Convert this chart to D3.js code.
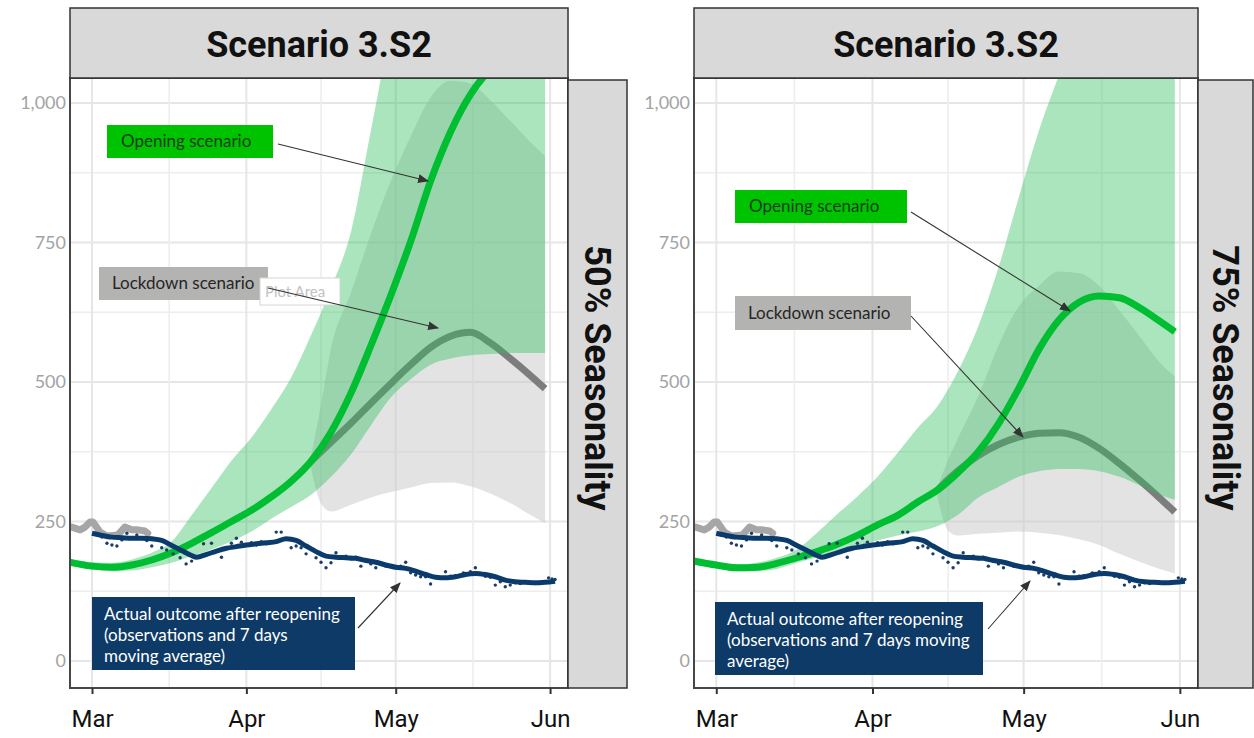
<!DOCTYPE html>
<html><head><meta charset="utf-8">
<script src="https://cdn.jsdelivr.net/npm/d3@7"></script>
<style>body{margin:0;background:#fff}svg{display:block}</style>
</head><body><svg id="c" width="1254" height="738"></svg>
<script>
// ---------------- DATA ----------------
// day offsets from 1 March 2020
const modelDays = [-5,0,4,8,12,16,20,24,28,32,36,40,44,48,52,56,60,64,68,72,76,80,84,88,91];
const lockDays  = [44,46,48,52,56,60,64,68,72,76,80,84,88,91];

// Panel 1: 50% seasonality
const open50   = [178,170,168,172,181,194,211,230,250,270,294,322,358,410,480,565,655,752,860,948,1015,1060,1085,1100,1105];
const openHi50 = [184,177,176,182,194,214,261,310,359,400,451,508,584,668,769,950,1130,1250,1350,1400,1400,1400,1400,1400,1400];
const openLo50 = [171,164,161,162,168,176,188,200,214,232,255,276,298,330,370,422,472,505,531,542,548,550,552,552,552];
const lock50   = [358,375,392,426,462,497,531,562,582,589,570,542,512,488];
const lockHi50 = [366,460,560,660,765,860,940,1010,1040,1035,1005,968,930,905];
const lockLo50 = [345,282,268,280,293,303,311,319,320,313,300,283,262,247];

// Panel 2: 75% seasonality
const open75   = [180,172,167,168,175,185,196,209,225,244,261,285,307,338,375,425,488,558,611,643,654,651,633,609,590];
const openHi75 = [185,177,173,176,185,200,230,263,295,330,373,418,458,520,600,705,830,950,1050,1150,1200,1200,1200,1200,1200];
const openLo75 = [174,167,161,161,165,176,186,196,206,216,225,232,242,262,293,312,330,340,344,344,340,330,315,298,289];
const lock75   = [307,325,341,368,388,401,408,409,401,381,354,324,292,267];
const lockHi75 = [314,360,400,475,565,635,672,698,695,672,628,582,535,510];
const lockLo75 = [290,234,225,228,230,232,230,226,218,208,192,178,165,157];

// Observed before reopening (grey)
const preDays = [-4.1,-2.4,-1.4,-0.4,0.2,1.6,3,5.2,6.6,8,9.2,10.6,11.2];
const preVals = [240,235,240,249,249,231,224,226,240,235,235,233,229];

// Actual outcome: 7-day moving average
const maDays = [0,2,4,6,8,10,12,14,16,18,20,21,23,25,27,29,31,33,35,37,39,41,43,45,47,49,51,53,55,57,59,61,63,65,67,69,71,73,75,77,79,81,83,85,87,89,91,93];
const maVals = [229,225,222,221,220,220,219,216,207,198,189,186,191,197,202,205,208,210,212,214,219,216,206,196,188,186,185,184,180,177,172,168,166,161,155,150,149,151,155,157,155,151,145,142,141,140,141,143];

// Actual outcome: daily observations
const obsDays = [1,2,3,4,5,6,7,9,10,11,12,14,15,16.3,17.7,18.9,20,22.4,24,26,28,29,30,32,33,34,35,36,37,38,40,41,42,43,45,46,47,48,49,50,51,52,53,54,55,56,57,58,59,60,61,62,63,64,65,66,67,68,69,70,71,72,73,74.6,75,76,77,78,79,80,81,82,83,84,85,86,87,88,89,90,91.7,92.4,93];
const obsVals = [226,222,211,208,206,217,229,226,220,216,206,203,199,192,185,174,179,210,211,186,211,220,213,212,208,214,210,213,231,231,203,206,203,192,185,177,167,176,194,184,188,183,186,170,182,174,167,176,170,171,167,170,177,158,154,151,151,138,150,149,160,152,153,158,157,160,167,156,152,150,136,142,133,136,140,139,142,141,139,141,149,147,146];

const yTicks = [0,250,500,750,1000];
const monthTicks = ["2020-03-01","2020-04-01","2020-05-01","2020-06-01"];
const titles = ["Scenario 3.S2","Scenario 3.S2"];
const strips = ["50% Seasonality","75% Seasonality"];

// ---------------- CHART ----------------
const svg = d3.select("#c");
const day = d => new Date(Date.UTC(2020,2,1) + d*864e5);
const Y0 = 78, Y1 = 688;

const panels = [
  {x0:70, x1:568, sx1:627, open:open50, hi:openHi50, lo:openLo50, lock:lock50, lhi:lockHi50, llo:lockLo50, strip:strips[0], title:titles[0],
   ann:{ob:[107,125,166,33], oa:[[278,144],[428,181]], lb:[99,267,169,33], la:[[268,288],[438,328]], plotArea:[260,278,80,27],
        bb:[92,597,263,73], ba:[[358,628],[400,583]], btext:["Actual outcome after reopening","(observations and 7 days","moving average)"]}},
  {x0:694, x1:1198, sx1:1253, open:open75, hi:openHi75, lo:openLo75, lock:lock75, lhi:lockHi75, llo:lockLo75, strip:strips[1], title:titles[1],
   ann:{ob:[735,190,172,33], oa:[[911,212],[1070,311]], lb:[735,296,176,34], la:[[911,316],[1023,437]], plotArea:null,
        bb:[715,602,268,73], ba:[[988,629],[1030,581]], btext:["Actual outcome after reopening","(observations and 7 days moving","average)"]}}
];

const defs = svg.append("defs");
defs.append("marker").attr("id","arr").attr("viewBox","0 0 10 10").attr("refX",9).attr("refY",5)
  .attr("markerWidth",11).attr("markerHeight",11).attr("markerUnits","userSpaceOnUse").attr("orient","auto")
  .append("path").attr("d","M0,1L10,5L0,9Z").attr("fill","#333");

panels.forEach((p,i) => {
  const x = d3.scaleUtc().domain([day(-4.42), day(95.6)]).range([p.x0, p.x1]);
  const y = d3.scaleLinear().domain([-48.4, 1044.8]).range([Y1, Y0]);
  const g = svg.append("g");
  const cid = "clip"+i;
  defs.append("clipPath").attr("id",cid).append("rect").attr("x",p.x0).attr("y",Y0).attr("width",p.x1-p.x0).attr("height",Y1-Y0);

  g.append("rect").attr("x",p.x0).attr("y",Y0).attr("width",p.x1-p.x0).attr("height",Y1-Y0).attr("fill","#fff");

  // grid
  const grid = g.append("g").attr("clip-path",`url(#${cid})`);
  const minorY = [125,375,625,875];
  grid.selectAll(".gym").data(minorY).join("line").attr("x1",p.x0).attr("x2",p.x1).attr("y1",d=>y(d)).attr("y2",d=>y(d)).attr("stroke","#eeeeee").attr("stroke-width",1.6);
  grid.selectAll(".gy").data(yTicks).join("line").attr("x1",p.x0).attr("x2",p.x1).attr("y1",d=>y(d)).attr("y2",d=>y(d)).attr("stroke","#e6e6e6").attr("stroke-width",2);
  const monthDates = monthTicks.map(s => new Date(s+"T00:00:00Z"));
  const minorX = monthDates.slice(0,-1).map((d,k)=> new Date((+d + +monthDates[k+1])/2));
  grid.selectAll(".gxm").data(minorX).join("line").attr("y1",Y0).attr("y2",Y1).attr("x1",d=>x(d)).attr("x2",d=>x(d)).attr("stroke","#eeeeee").attr("stroke-width",1.6);
  grid.selectAll(".gx").data(monthDates).join("line").attr("y1",Y0).attr("y2",Y1).attr("x1",d=>x(d)).attr("x2",d=>x(d)).attr("stroke","#e6e6e6").attr("stroke-width",2);

  const plot = g.append("g").attr("clip-path",`url(#${cid})`);
  const area = (days, lo, hi) => d3.area().curve(d3.curveMonotoneX)
      .x((d,k)=>x(day(days[k]))).y0((d,k)=>y(lo[k])).y1((d,k)=>y(hi[k]))(days);
  const line = (days, v, curve) => d3.line().curve(curve || d3.curveMonotoneX)
      .x((d,k)=>x(day(days[k]))).y((d,k)=>y(v[k]))(days);

  // lockdown ribbon + line
  plot.append("path").attr("d",area(lockDays,p.llo,p.lhi)).attr("fill","#c8c8c8").attr("fill-opacity",0.5);
  plot.append("path").attr("d",line(lockDays,p.lock)).attr("fill","none").attr("stroke","#7d7d7d").attr("stroke-width",7);
  // opening ribbon + line
  plot.append("path").attr("d",area(modelDays,p.lo,p.hi)).attr("fill","#2ebf5a").attr("fill-opacity",0.4);
  plot.append("path").attr("d",line(modelDays,p.open)).attr("fill","none").attr("stroke","#00be32").attr("stroke-width",7);
  // pre-reopening observations
  plot.append("path").attr("d",line(preDays,preVals,d3.curveLinear)).attr("fill","none").attr("stroke","#a6a6a6").attr("stroke-width",7).attr("stroke-linejoin","round").attr("stroke-linecap","round");
  // observations
  plot.selectAll(".obs").data(obsDays).join("circle").attr("cx",(d,k)=>x(day(d))).attr("cy",(d,k)=>y(obsVals[k])).attr("r",1.7).attr("fill","#1d3d66");
  // moving average
  plot.append("path").attr("d",line(maDays,maVals)).attr("fill","none").attr("stroke","#0b3a6d").attr("stroke-width",5).attr("stroke-linejoin","round");

  // annotations
  const a = p.ann;
  const ag = g.append("g").attr("font-family","Lato, 'Open Sans', sans-serif").attr("font-size",17);
  ag.append("rect").attr("x",a.ob[0]).attr("y",a.ob[1]).attr("width",a.ob[2]).attr("height",a.ob[3]).attr("fill","#00c300");
  ag.append("text").attr("x",a.ob[0]+14).attr("y",a.ob[1]+a.ob[3]/2).attr("dy","0.35em").attr("fill","#143c14").text("Opening scenario");
  ag.append("rect").attr("x",a.lb[0]).attr("y",a.lb[1]).attr("width",a.lb[2]).attr("height",a.lb[3]).attr("fill","#b3b3b1");
  ag.append("text").attr("x",a.lb[0]+13).attr("y",a.lb[1]+a.lb[3]/2).attr("dy","0.35em").attr("fill","#262626").text("Lockdown scenario");
  if (a.plotArea) {
    ag.append("rect").attr("x",a.plotArea[0]).attr("y",a.plotArea[1]).attr("width",a.plotArea[2]).attr("height",a.plotArea[3]).attr("fill","#fff").attr("stroke","#d6d6d6");
    ag.append("text").attr("x",a.plotArea[0]+5).attr("y",a.plotArea[1]+a.plotArea[3]/2).attr("dy","0.35em").attr("font-size",15).attr("fill","#c2c2c2").text("Plot Area");
  }
  ag.append("rect").attr("x",a.bb[0]).attr("y",a.bb[1]).attr("width",a.bb[2]).attr("height",a.bb[3]).attr("fill","#0d3a66");
  a.btext.forEach((t,k)=> ag.append("text").attr("x",a.bb[0]+12).attr("y",a.bb[1]+23+k*21).attr("fill","#fff").text(t));
  [a.oa,a.la,a.ba].forEach(ar => ag.append("line").attr("x1",ar[0][0]).attr("y1",ar[0][1]).attr("x2",ar[1][0]).attr("y2",ar[1][1])
      .attr("stroke","#333").attr("stroke-width",1.1).attr("marker-end","url(#arr)"));

  // panel border
  g.append("rect").attr("x",p.x0).attr("y",Y0).attr("width",p.x1-p.x0).attr("height",Y1-Y0).attr("fill","none").attr("stroke","#474747").attr("stroke-width",2);

  // title box
  g.append("rect").attr("x",p.x0).attr("y",8).attr("width",p.x1-p.x0).attr("height",Y0-8).attr("fill","#d9d9d9").attr("stroke","#333").attr("stroke-width",1.5);
  g.append("text").attr("x",(p.x0+p.x1)/2).attr("y",57).attr("text-anchor","middle").attr("font-family","Roboto, sans-serif")
    .attr("font-weight","bold").attr("font-size",36).attr("fill","#111").text(p.title);
  // strip
  g.append("rect").attr("x",p.x1).attr("y",Y0+2).attr("width",p.sx1-p.x1).attr("height",Y1-Y0-2).attr("fill","#d9d9d9").attr("stroke","#333").attr("stroke-width",1.5);
  g.append("text").attr("transform",`translate(${(p.x1+p.sx1)/2},${(Y0+Y1)/2-5})rotate(90)`).attr("text-anchor","middle").attr("dy","0.36em")
    .attr("font-family","Roboto, sans-serif").attr("font-weight","bold").attr("font-size",36).attr("fill","#111").text(p.strip);

  // axes
  const ya = g.append("g").attr("transform",`translate(${p.x0},0)`)
    .call(d3.axisLeft(y).tickValues(yTicks).tickFormat(d3.format(",")).tickSize(0).tickPadding(4));
  ya.select(".domain").remove();
  ya.selectAll("text").attr("font-family","Lato, sans-serif").attr("font-size",18).attr("fill","#a3a3a3");
  const xa = g.append("g").attr("transform",`translate(0,${Y1})`)
    .call(d3.axisBottom(x).tickValues(monthDates).tickFormat(d3.utcFormat("%b")).tickSize(6).tickPadding(16));
  xa.select(".domain").remove();
  xa.selectAll("line").attr("stroke","#333").attr("stroke-width",2);
  xa.selectAll("text").attr("font-family","Roboto, sans-serif").attr("font-size",24).attr("fill","#111");
});
</script></body></html>
